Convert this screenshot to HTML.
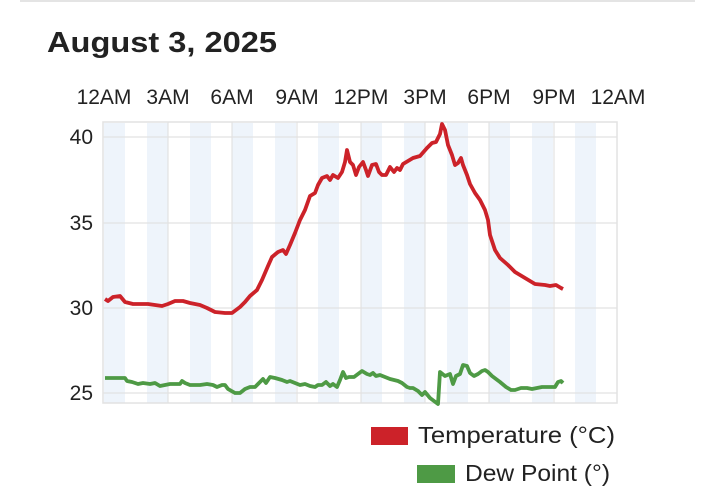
<!DOCTYPE html>
<html><head><meta charset="utf-8"><style>
html,body{margin:0;padding:0;background:#fff;}
svg{display:block;font-family:"Liberation Sans",sans-serif;}
</style></head><body>
<svg width="720" height="491" viewBox="0 0 720 491" xmlns="http://www.w3.org/2000/svg">
<rect width="720" height="491" fill="#fff"/>
<line x1="20" y1="1" x2="695" y2="1" stroke="#e4e4e4" stroke-width="2"/>
<text x="47" y="52" font-size="29" font-weight="bold" fill="#222" textLength="230" lengthAdjust="spacingAndGlyphs">August 3, 2025</text>
<g font-size="21" fill="#222" text-anchor="middle">
<text x="104" y="104">12AM</text><text x="168" y="104">3AM</text><text x="232" y="104">6AM</text><text x="297" y="104">9AM</text><text x="361" y="104">12PM</text><text x="425" y="104">3PM</text><text x="489" y="104">6PM</text><text x="554" y="104">9PM</text><text x="618" y="104">12AM</text>
</g>
<g fill="#eef4fb">
<rect x="104" y="123" width="21" height="280"/><rect x="147" y="123" width="21" height="280"/><rect x="190" y="123" width="21" height="280"/><rect x="232" y="123" width="21" height="280"/><rect x="275" y="123" width="21" height="280"/><rect x="318" y="123" width="21" height="280"/><rect x="361" y="123" width="21" height="280"/><rect x="404" y="123" width="21" height="280"/><rect x="447" y="123" width="21" height="280"/><rect x="489" y="123" width="21" height="280"/><rect x="532" y="123" width="21" height="280"/><rect x="575" y="123" width="21" height="280"/>
</g>
<rect x="103" y="122" width="514" height="281" fill="none" stroke="#e2e2e2" stroke-width="1.5"/>
<g stroke="#e2e2e2" stroke-width="1.2">
<line x1="103" y1="137" x2="617" y2="137"/><line x1="103" y1="223" x2="617" y2="223"/><line x1="103" y1="308" x2="617" y2="308"/><line x1="103" y1="393" x2="617" y2="393"/>
<line x1="168" y1="122" x2="168" y2="403"/><line x1="232" y1="122" x2="232" y2="403"/><line x1="297" y1="122" x2="297" y2="403"/><line x1="361" y1="122" x2="361" y2="403"/><line x1="425" y1="122" x2="425" y2="403"/><line x1="489" y1="122" x2="489" y2="403"/><line x1="554" y1="122" x2="554" y2="403"/>
</g>
<g font-size="21" fill="#222" text-anchor="end">
<text x="93" y="144">40</text><text x="93" y="230">35</text><text x="93" y="315">30</text><text x="93" y="400">25</text>
</g>
<polyline fill="none" stroke="#cc2229" stroke-width="3.8" stroke-linejoin="round" points="105,299 108,301 113,297 120,296 125,302 133,304 140,304 148,304 155,305 162,306 168,304 175,301 183,301 190,303 200,305 207,308 215,312 225,313 232,313 240,307 245,302 250,296 257,290 262,280 268,266 272,257 278,252 283,250 286,254 290,245 295,233 300,220 305,210 310,196 315,193 318,185 322,178 327,176 330,180 333,175 338,178 342,172 345,162 347,150 350,162 353,165 356,175 359,167 363,162 366,170 368,176 372,165 376,164 379,172 382,175 386,175 390,167 394,172 397,168 400,170 403,164 408,161 413,158 420,156 427,148 432,143 436,142 440,134 442,124 445,130 448,145 452,155 455,165 458,163 461,158 463,165 467,175 470,184 475,193 480,200 485,210 488,220 490,235 495,250 500,258 508,265 515,272 525,278 535,284 545,285 550,286 556,285 561,288 563,289"/>
<polyline fill="none" stroke="#4e9a45" stroke-width="3.8" stroke-linejoin="round" points="105,378 125,378 127,381 132,382 138,384 143,383 150,384 155,383 160,386 170,384 180,384 182,381 185,383 190,385 200,385 207,384 213,385 217,387 222,385 225,385 228,389 235,393 240,393 245,389 250,387 255,387 258,384 263,379 266,383 270,377 275,378 282,380 287,382 290,381 295,383 300,385 305,384 310,386 315,387 318,385 322,385 326,382 330,386 333,384 337,387 340,380 343,372 346,378 349,377 354,377 358,374 362,371 367,374 370,375 373,373 376,376 380,375 385,377 390,379 398,381 402,383 407,387 410,388 413,388 418,391 422,395 425,392 430,398 438,404 440,372 445,376 450,374 453,384 456,376 460,374 463,365 467,366 470,373 474,376 478,374 482,371 485,370 488,372 492,376 500,382 506,387 511,390 515,390 521,388 527,388 532,389 537,388 542,387 547,387 555,387 558,382 561,381 563,383"/>
<rect x="371" y="427" width="37" height="18" fill="#cc2229"/>
<text x="418" y="443" font-size="23" fill="#222" textLength="197" lengthAdjust="spacingAndGlyphs">Temperature (°C)</text>
<rect x="417" y="465" width="38" height="18" fill="#4e9a45"/>
<text x="465" y="481" font-size="23" fill="#222" textLength="145" lengthAdjust="spacingAndGlyphs">Dew Point (°)</text>
</svg>
</body></html>
